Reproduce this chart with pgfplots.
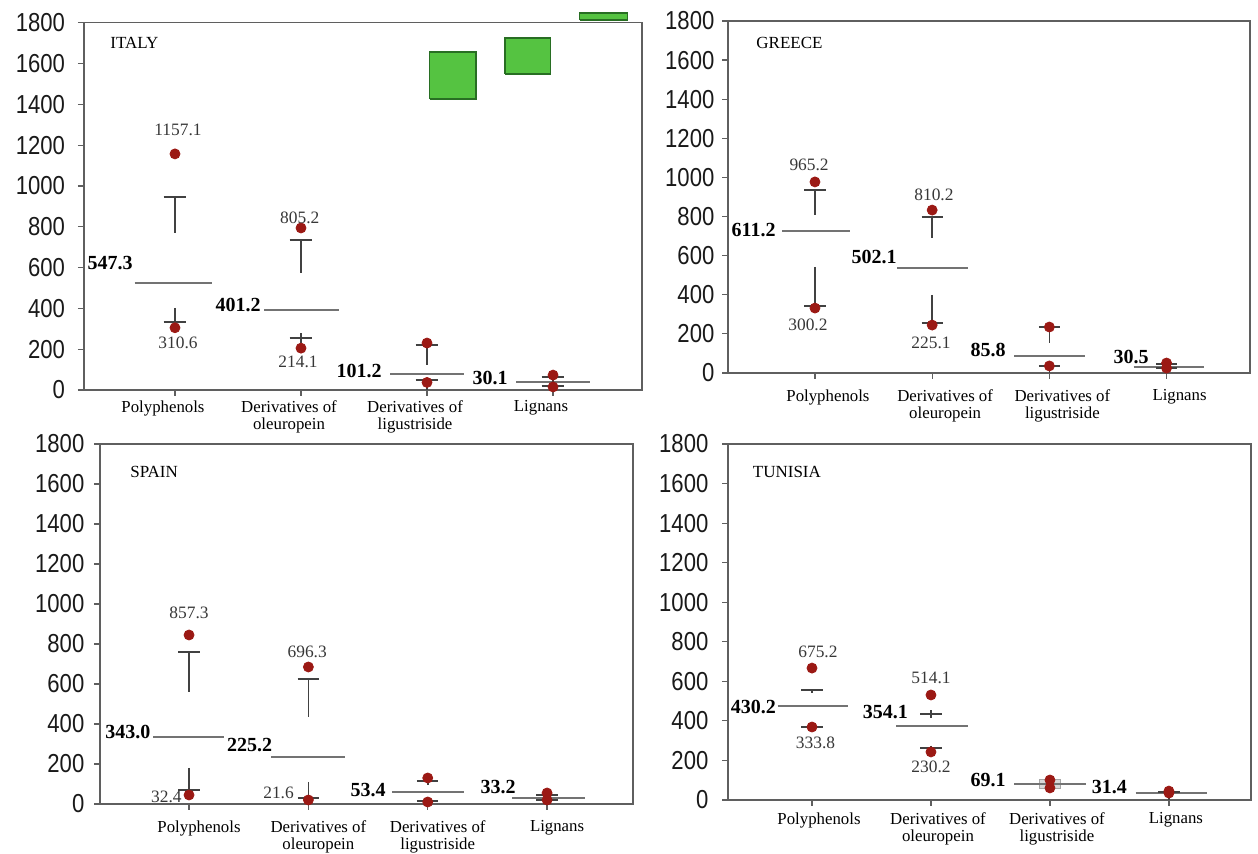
\documentclass[border=0pt]{standalone}
\usepackage{pgfplots}
\pgfplotsset{compat=1.18}
\usepackage{graphicx}
\usepackage{fontspec}
\setmainfont{Liberation Serif}
\newfontfamily\tickfamily{Liberation Sans}
\definecolor{framegray}{RGB}{95,95,95}
\definecolor{medgray}{RGB}{115,115,115}
\definecolor{whisk}{RGB}{65,65,65}
\definecolor{dotred}{RGB}{155,25,20}
\definecolor{valtext}{RGB}{55,55,55}
\definecolor{boxgreen}{RGB}{85,195,65}
\definecolor{boxgreendark}{RGB}{40,110,35}
\newcommand\sqz[1]{\scalebox{0.85}[1]{#1}}
\pgfplotsset{
 panel/.style={
  scale only axis,
  ymin=0, ymax=1800,
  ytick={0,200,...,1800},
  yticklabels={\sqz{0},\sqz{200},\sqz{400},\sqz{600},\sqz{800},\sqz{1000},\sqz{1200},\sqz{1400},\sqz{1600},\sqz{1800}},
  yticklabel style={font=\tickfamily\fontsize{13}{13}\selectfont, text=black!90},
  xtick={0,1,2,3},
  xticklabels={Polyphenols,{Derivatives of\\oleuropein},{Derivatives of\\ligustriside},Lignans},
  xticklabel style={font=\fontsize{8.4}{8.5}\selectfont, align=center, anchor=north, text=black},
  axis line style={draw=framegray, line width=0.8pt},
  tick style={draw=framegray, line width=0.6pt},
  tick align=outside, major tick length=3pt,
  ytick pos=left, xtick pos=bottom,
  clip=false, unbounded coords=jump,
 },
 medline/.style={medgray, line width=1.2pt, mark=none},
 whline/.style={whisk, line width=0.8pt, mark=none},
 dots/.style={only marks, mark=*, mark size=2.5pt, dotred, mark options={draw=dotred, fill=dotred}},
 boldlab/.style={only marks, mark=none, nodes near coords, point meta=explicit symbolic,
   nodes near coords style={anchor=east, inner sep=0pt, font=\bfseries\fontsize{10}{10}\selectfont, text=black}},
 vallab/.style={only marks, mark=none, nodes near coords, point meta=explicit symbolic,
   nodes near coords style={anchor=center, inner sep=0pt, font=\fontsize{8.7}{9}\selectfont, text=valtext}},
 country/.style={only marks, mark=none, nodes near coords, point meta=explicit symbolic,
   nodes near coords style={anchor=west, inner sep=0pt, font=\fontsize{8.5}{9}\selectfont, text=black}},
}
\begin{document}
\begin{tikzpicture}
\useasboundingbox (0,0) rectangle (629pt,427pt);
% ITALY
\begin{axis}[panel, at={(42pt,232pt)}, anchor=south west, width=279pt, height=183.65pt,
  xmin=-0.722, xmax=3.706,
  yticklabel style={xshift=-3pt},
  xticklabel style={xshift=-6pt, yshift=1.3pt}]
\addplot[fill=boxgreen, draw=boxgreendark, line width=0.8pt] coordinates {(2.02,1426) (2.39,1426) (2.39,1657) (2.02,1657) (2.02,1426)};
\addplot[fill=boxgreen, draw=boxgreendark, line width=0.8pt] coordinates {(2.62,1549) (2.98,1549) (2.98,1725) (2.62,1725) (2.62,1549)};
\addplot[fill=boxgreen, draw=boxgreendark, line width=0.8pt] coordinates {(3.21,1813) (3.59,1813) (3.59,1848) (3.21,1848) (3.21,1813)};
\addplot[medline] coordinates {(-0.32,525) (0.29,525) (nan,nan) (0.71,392) (1.30,392) (nan,nan) (1.71,78) (2.29,78) (nan,nan) (2.71,40) (3.29,40)};
\addplot[whline] coordinates {(-0.09,946) (0.09,946) (nan,nan) (0,946) (0,770) (nan,nan)
 (0,402) (0,310) (nan,nan) (-0.09,333) (0.09,333) (nan,nan)
 (0.91,735) (1.09,735) (nan,nan) (1,735) (1,573) (nan,nan)
 (1,279) (1,230) (nan,nan) (0.91,255) (1.09,255) (nan,nan)
 (1.91,220) (2.09,220) (nan,nan) (2,235) (2,122) (nan,nan)
 (1.91,49) (2.09,49) (nan,nan) (2,49) (2,0) (nan,nan)
 (2.91,64) (3.09,64) (nan,nan) (2.91,20) (3.09,20) (nan,nan) (3,85) (3,0)};
\addplot[dots] coordinates {(0,1157) (0,305) (1,794) (1,205) (2,230) (2,37) (3,73) (3,15)};
\addplot[boldlab] coordinates {(-0.333,623)[547.3] (0.683,417)[401.2] (1.643,93)[101.2] (2.643,59)[30.1]};
\addplot[vallab] coordinates {(0.024,1275)[1157.1] (0.024,230)[310.6] (0.99,843)[805.2] (0.976,137)[214.1]};
\addplot[country] coordinates {(-0.516,1701)[ITALY]};
\end{axis}
% GREECE
\begin{axis}[panel, at={(364pt,240.5pt)}, anchor=south west, width=261pt, height=176pt,
  xmin=-0.742, xmax=3.712,
  yticklabel style={xshift=-0.3pt},
  xticklabel style={xshift=6.5pt, yshift=-1.7pt}]
\addplot[medline] coordinates {(-0.28,726) (0.30,726) (nan,nan) (0.70,537) (1.31,537) (nan,nan) (1.70,87) (2.30,87) (nan,nan) (2.72,30) (3.32,30)};
\addplot[whline] coordinates {(-0.09,935) (0.09,935) (nan,nan) (0,935) (0,808) (nan,nan)
 (0,542) (0,343) (nan,nan) (-0.09,343) (0.09,343) (nan,nan)
 (0.91,798) (1.09,798) (nan,nan) (1,798) (1,690) (nan,nan)
 (1,399) (1,256) (nan,nan) (0.91,256) (1.09,256) (nan,nan)
 (1.91,235) (2.09,235) (nan,nan) (2,235) (2,153) (nan,nan)
 (1.91,36) (2.09,36) (nan,nan) (2,36) (2,0) (nan,nan)
 (2.91,45) (3.09,45) (nan,nan) (2.91,25) (3.09,25) (nan,nan) (3,60) (3,0)};
\addplot[dots] coordinates {(0,977) (0,332) (1,833) (1,245) (2,235) (2,36) (3,51) (3,25)};
\addplot[boldlab] coordinates {(-0.333,731)[611.2] (0.70,593)[502.1] (1.63,118)[85.8] (2.85,82)[30.5]};
\addplot[vallab] coordinates {(-0.05,1063)[965.2] (-0.06,245)[300.2] (1.015,910)[810.2] (0.99,153)[225.1]};
\addplot[country] coordinates {(-0.503,1687)[GREECE]};
\end{axis}
% SPAIN
\begin{axis}[panel, at={(50pt,25pt)}, anchor=south west, width=266.5pt, height=180pt,
  xmin=-0.746, xmax=3.72,
  yticklabel style={xshift=-1.3pt},
  xticklabel style={xshift=5pt, yshift=-1.7pt}]
\addplot[medline] coordinates {(-0.30,335) (0.29,335) (nan,nan) (0.69,235) (1.31,235) (nan,nan) (1.70,60) (2.30,60) (nan,nan) (2.71,30) (3.32,30)};
\addplot[whline] coordinates {(-0.09,760) (0.09,760) (nan,nan) (0,760) (0,560) (nan,nan)
 (0,180) (0,45) (nan,nan) (-0.09,70) (0.09,70) (nan,nan)
 (0.91,625) (1.09,625) (nan,nan) (1,625) (1,435) (nan,nan)
 (1,110) (1,0) (nan,nan) (0.91,30) (1.09,30) (nan,nan)
 (1.91,115) (2.09,115) (nan,nan) (2,130) (2,95) (nan,nan)
 (1.91,15) (2.09,15) (nan,nan)
 (2.91,45) (3.09,45) (nan,nan) (2.91,20) (3.09,20) (nan,nan) (3,60) (3,0)};
\addplot[dots] coordinates {(0,845) (0,45) (1,685) (1,20) (2,130) (2,10) (3,55) (3,20)};
\addplot[boldlab] coordinates {(-0.32,360)[343.0] (0.70,295)[225.2] (1.65,70)[53.4] (2.74,85)[33.2]};
\addplot[vallab] coordinates {(0,955)[857.3] (-0.19,35)[32.4] (0.99,760)[696.3] (0.75,55)[21.6]};
\addplot[country] coordinates {(-0.495,1660)[SPAIN]};
\end{axis}
% TUNISIA
\begin{axis}[panel, at={(364pt,27pt)}, anchor=south west, width=261.5pt, height=178pt,
  xmin=-0.706, xmax=3.69,
  yticklabel style={xshift=-3.3pt},
  xticklabel style={xshift=3.5pt, yshift=0.3pt}]
\addplot[fill=black!15, draw=black!35] coordinates {(1.91,61) (2.09,61) (2.09,105) (1.91,105) (1.91,61)};
\addplot[medline] coordinates {(-0.29,475) (0.30,475) (nan,nan) (0.71,374) (1.31,374) (nan,nan) (1.70,81) (2.30,81) (nan,nan) (2.72,35) (3.32,35)};
\addplot[whline] coordinates {(-0.09,556) (0.09,556) (nan,nan) (0,556) (0,540) (nan,nan)
 (-0.09,369) (0.09,369) (nan,nan)
 (0.91,435) (1.09,435) (nan,nan) (1,455) (1,415) (nan,nan)
 (0.91,263) (1.09,263) (nan,nan) (1,275) (1,250) (nan,nan)
 (2.91,40) (3.09,40) (nan,nan) (3,55) (3,0)};
\addplot[dots] coordinates {(0,667) (0,369) (1,531) (1,243) (2,101) (2,61) (3,45) (3,35)};
\addplot[boldlab] coordinates {(-0.30,470)[430.2] (0.81,445)[354.1] (1.63,101)[69.1] (2.65,66)[31.4]};
\addplot[vallab] coordinates {(0.05,748)[675.2] (0.03,288)[333.8] (1.0,617)[514.1] (1.0,167)[230.2]};
\addplot[country] coordinates {(-0.50,1658)[TUNISIA]};
\end{axis}
\end{tikzpicture}
\end{document}
